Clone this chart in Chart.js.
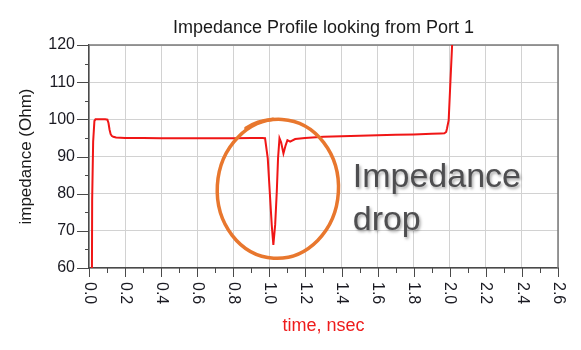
<!DOCTYPE html>
<html>
<head>
<meta charset="utf-8">
<script src="https://cdn.jsdelivr.net/npm/chart.js@4.4.1/dist/chart.umd.min.js"></script>
<style>
html,body{margin:0;padding:0;background:#fff;}
#wrap{width:581px;height:350px;position:relative;}
canvas{display:block;}
</style>
</head>
<body>
<div id="wrap"><canvas id="c" width="581" height="350"></canvas></div>
<script>
// ---- data ----
const chartTitle = 'Impedance Profile looking from Port 1';
const xAxisTitle = 'time, nsec';
const yAxisTitle = 'impedance (Ohm)';
const xTickLabels = ['0.0','0.2','0.4','0.6','0.8','1.0','1.2','1.4','1.6','1.8','2.0','2.2','2.4','2.6'];
const yTickLabels = ['60','70','80','90','100','110','120'];
const annotationLines = ['Impedance', 'drop'];

const timeNs = [
  0.000, 0.016, 0.0175, 0.023, 0.030, 0.036, 0.060, 0.090, 0.102, 0.108,
  0.114, 0.120, 0.127, 0.135, 0.150, 0.200, 0.300, 0.400, 0.500, 0.600,
  0.700, 0.800, 0.900, 0.960, 0.976, 0.991, 1.002, 1.013, 1.022, 1.032,
  1.041, 1.048, 1.056, 1.065, 1.078, 1.090, 1.100, 1.115, 1.143, 1.198,
  1.300, 1.400, 1.500, 1.600, 1.700, 1.800, 1.900, 1.950, 1.970, 1.980,
  1.985, 1.994, 2.004, 2.013, 2.020
];
const impedanceOhm = [
  40.0, 55.0, 78.3, 94.0, 99.6, 100.0, 100.0, 100.0, 99.9, 99.0,
  97.2, 96.0, 95.5, 95.3, 95.1, 95.0, 94.95, 94.9, 94.9, 94.9,
  94.9, 94.9, 94.95, 94.95, 94.9, 89.5, 80.5, 71.6, 66.2, 71.6,
  80.5, 89.5, 94.9, 93.8, 90.8, 93.0, 94.4, 94.0, 94.7, 95.0,
  95.3, 95.45, 95.6, 95.75, 95.85, 95.95, 96.1, 96.2, 96.25, 96.6,
  97.6, 99.8, 110.6, 120.0, 135.0
];

const points = timeNs.map((t, i) => ({x: t, y: impedanceOhm[i]}));
const FONT = "'Liberation Sans', Arial, sans-serif";

function isMajorX(v){ return Math.abs(v*5 - Math.round(v*5)) < 1e-6; }
function isMajorY(v){ return Math.abs(v % 10) < 1e-6; }

const decorations = {
  id: 'decorations',
  beforeDatasetsDraw(chart){
    const {ctx, chartArea: a} = chart;
    ctx.save();
    // top and right frame
    ctx.strokeStyle = '#7a7a7a';
    ctx.lineWidth = 1.5;
    ctx.beginPath();
    ctx.moveTo(a.left, a.top); ctx.lineTo(a.right, a.top); ctx.lineTo(a.right, a.bottom);
    ctx.stroke();
    ctx.restore();
  },
  afterDatasetsDraw(chart){
    const {ctx, chartArea: a, scales: {x, y}} = chart;
    ctx.save();
    // orange hand-drawn circle annotation
    const cx = x.getPixelForValue(1.047), cy = y.getPixelForValue(81.3);
    const rx = x.getPixelForValue(1.047 + 0.336) - cx;
    const ry = cy - y.getPixelForValue(81.3 + 18.7);
    ctx.strokeStyle = '#E8772E';
    ctx.lineWidth = 3.5;
    ctx.lineCap = 'round';
    ctx.beginPath();
    ctx.ellipse(cx, cy, rx, ry, 0.06, 0, Math.PI*2);
    ctx.stroke();
    ctx.beginPath();
    ctx.moveTo(x.getPixelForValue(0.87), y.getPixelForValue(97.6));
    ctx.quadraticCurveTo(x.getPixelForValue(0.93), y.getPixelForValue(99.6),
                         x.getPixelForValue(1.02), y.getPixelForValue(100.0));
    ctx.stroke();
    // annotation text
    ctx.font = '34px ' + FONT;
    ctx.fillStyle = '#4e4e50';
    ctx.shadowColor = 'rgba(0,0,0,0.35)';
    ctx.shadowBlur = 3;
    ctx.shadowOffsetX = 1.5;
    ctx.shadowOffsetY = 2;
    ctx.textAlign = 'left';
    ctx.textBaseline = 'alphabetic';
    ctx.fillText(annotationLines[0], x.getPixelForValue(1.462), y.getPixelForValue(81.8));
    ctx.fillText(annotationLines[1], x.getPixelForValue(1.462), y.getPixelForValue(70.2));
    ctx.restore();
  },
  afterDraw(chart){
    const {ctx, chartArea: a, scales: {x, y}} = chart;
    ctx.save();
    // tick marks
    ctx.strokeStyle = '#4a4a4a';
    ctx.lineWidth = 1;
    ctx.beginPath();
    x.ticks.forEach(t => {
      const px = Math.round(x.getPixelForValue(t.value)) + 0.5;
      const len = isMajorX(t.value) ? 9 : 5;
      ctx.moveTo(px, a.bottom); ctx.lineTo(px, a.bottom + len);
    });
    y.ticks.forEach(t => {
      const py = Math.round(y.getPixelForValue(t.value)) + 0.5;
      const len = isMajorY(t.value) ? 12 : 4;
      ctx.moveTo(a.left, py); ctx.lineTo(a.left - len, py);
    });
    ctx.stroke();
    // x tick labels, rotated clockwise
    ctx.fillStyle = '#1a1a22';
    ctx.font = '16px ' + FONT;
    ctx.textAlign = 'left';
    ctx.textBaseline = 'middle';
    xTickLabels.forEach(lbl => {
      const px = x.getPixelForValue(parseFloat(lbl));
      ctx.save();
      ctx.translate(px, a.bottom + 14);
      ctx.rotate(Math.PI/2);
      ctx.fillText(lbl, 0, 0);
      ctx.restore();
    });
    // chart title
    const midX = (a.left + a.right)/2;
    ctx.font = '18px ' + FONT;
    ctx.fillStyle = '#1a1a1a';
    ctx.textAlign = 'center';
    ctx.textBaseline = 'alphabetic';
    ctx.fillText(chartTitle, midX, 33);
    // x axis title
    ctx.fillStyle = '#ee1c1c';
    ctx.fillText(xAxisTitle, midX, 331);
    // y axis title
    ctx.fillStyle = '#1a1a1a';
    ctx.font = '17px ' + FONT;
    ctx.save();
    ctx.translate(31, (a.top + a.bottom)/2);
    ctx.rotate(-Math.PI/2);
    ctx.fillText(yAxisTitle, 0, 0);
    ctx.restore();
    ctx.restore();
  }
};

new Chart(document.getElementById('c'), {
  type: 'line',
  data: {
    datasets: [{
      data: points,
      borderColor: 'rgb(240,22,22)',
      borderWidth: 2,
      pointRadius: 0,
      tension: 0,
      fill: false,
      clip: 0
    }]
  },
  options: {
    responsive: false,
    devicePixelRatio: 1,
    animation: false,
    events: [],
    layout: {padding: {top: 45, right: 23, left: 0, bottom: 0}},
    plugins: {legend: {display: false}, title: {display: false}, tooltip: {enabled: false}},
    scales: {
      x: {
        type: 'linear',
        min: 0, max: 2.6,
        afterBuildTicks: s => {
          const major = xTickLabels.map(parseFloat);
          const t = [];
          major.forEach((v, i) => {
            t.push({value: v});
            if (i < major.length - 1) t.push({value: (v + major[i+1]) / 2});
          });
          s.ticks = t;
        },
        afterFit: s => { s.height = 82; },
        ticks: {display: false, autoSkip: false},
        grid: {
          drawTicks: false,
          color: c => (c.tick && isMajorX(c.tick.value)) ? '#d2d2d2' : 'rgba(0,0,0,0)',
          lineWidth: 1
        },
        border: {display: true, color: '#4a4a4a', width: 1.5}
      },
      y: {
        type: 'linear',
        min: 60, max: 120,
        afterBuildTicks: s => {
          const major = yTickLabels.map(Number);
          const t = [];
          major.forEach((v, i) => {
            t.push({value: v});
            if (i < major.length - 1) t.push({value: (v + major[i+1]) / 2});
          });
          s.ticks = t;
        },
        afterFit: s => { s.width = 89; },
        ticks: {
          autoSkip: false,
          padding: 14,
          color: '#1a1a22',
          font: {family: FONT, size: 16},
          callback: v => isMajorY(v) ? String(v) : ''
        },
        grid: {
          drawTicks: false,
          color: c => (c.tick && isMajorY(c.tick.value)) ? '#d2d2d2' : 'rgba(0,0,0,0)',
          lineWidth: 1
        },
        border: {display: true, color: '#4a4a4a', width: 1.5}
      }
    }
  },
  plugins: [decorations]
});
</script>
</body>
</html>
